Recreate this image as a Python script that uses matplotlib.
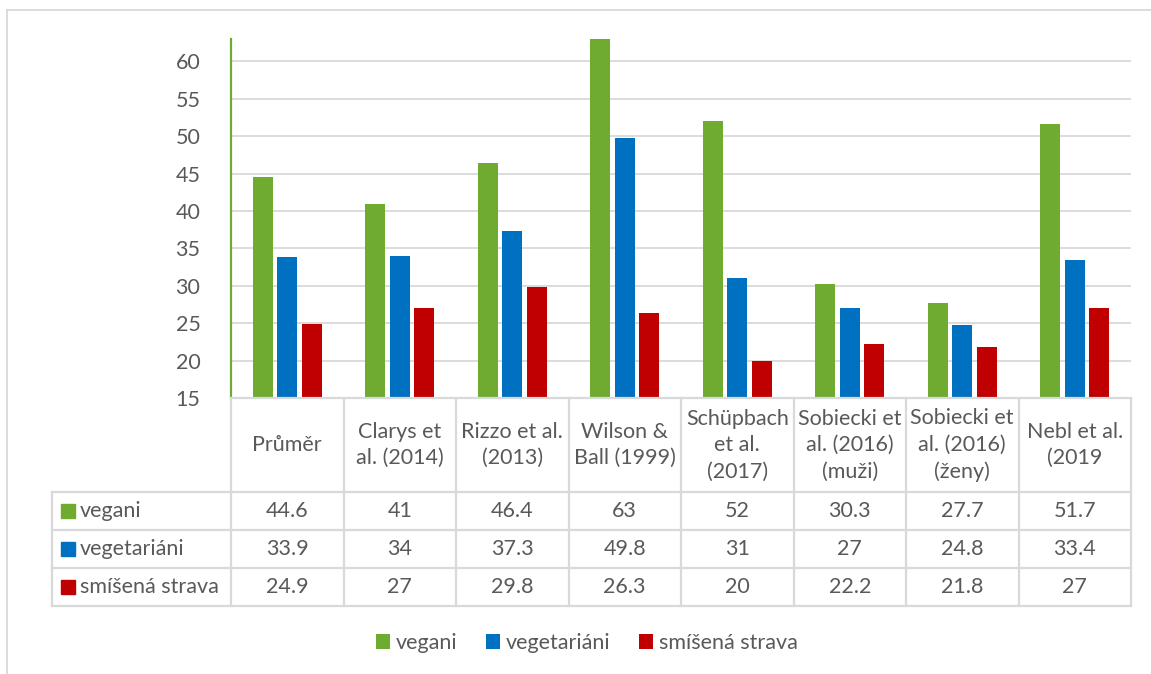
import matplotlib
matplotlib.use("Agg")
import matplotlib.pyplot as plt
from matplotlib.patches import Patch, Rectangle
from matplotlib.lines import Line2D
import numpy as np

plt.rcParams["font.family"] = ["Lato", "DejaVu Sans"]

# Studies (column headers of the data table)
studies = [
    "Průměr",
    "Clarys et\nal. (2014)",
    "Rizzo et al.\n(2013)",
    "Wilson &\nBall (1999)",
    "Schüpbach\net al.\n(2017)",
    "Sobiecki et\nal. (2016)\n(muži)",
    "Sobiecki et\nal. (2016)\n(ženy)",
    "Nebl et al.\n(2019",
]
vegani = [44.6, 41, 46.4, 63, 52, 30.3, 27.7, 51.7]
vegetariani = [33.9, 34, 37.3, 49.8, 31, 27, 24.8, 33.4]
smisena_strava = [24.9, 27, 29.8, 26.3, 20, 22.2, 21.8, 27]
series_names = ["vegani", "vegetariáni", "smíšená strava"]
y_ticks = [15, 20, 25, 30, 35, 40, 45, 50, 55, 60]

series = [vegani, vegetariani, smisena_strava]
colors = ["#6EAB30", "#0070C0", "#C00000"]
text_col = "#595959"
grid_col = "#D9D9D9"
fs = 15.5

W, H = 1151, 674
fig = plt.figure(figsize=(W / 100, H / 100), dpi=100)


def px_box(x0, y0, x1, y1):
    """Axes rectangle given in pixels measured from the top-left corner."""
    return [x0 / W, 1 - y1 / H, (x1 - x0) / W, (y1 - y0) / H]


# outer chart frame (left and top edges visible)
fig.add_artist(Line2D([7 / W, 7 / W], [0, 1 - 10 / H], color=grid_col, lw=1.3))
fig.add_artist(Line2D([7 / W, 1], [1 - 10 / H, 1 - 10 / H], color=grid_col, lw=1.3))

# ---- bar chart ----
ax = fig.add_axes(px_box(231, 39, 1131, 398))
x = np.arange(len(studies))
bw = 0.178
step = 0.218
for i, (vals, c) in enumerate(zip(series, colors)):
    ax.bar(x + (i - 1) * step, vals, width=bw, color=c, zorder=3)

ax.set_xlim(-0.5, len(studies) - 0.5)
ax.set_ylim(15, 63)
ax.set_yticks(y_ticks)
ax.set_yticklabels([str(t) for t in y_ticks], fontsize=fs, color=text_col)
ax.tick_params(axis="y", length=0, pad=22)
ax.set_xticks([])
ax.yaxis.grid(True, color=grid_col, lw=1.3, zorder=0)
for s in ["top", "right", "bottom"]:
    ax.spines[s].set_visible(False)
ax.spines["left"].set_color(colors[0])
ax.spines["left"].set_linewidth(1.6)
ax.spines["left"].set_zorder(4)

# ---- data table ----
col_px = 112.5
tx = fig.add_axes(px_box(52, 398, 1131, 606))
x_left = -0.5 - (231 - 52) / col_px
tx.set_xlim(x_left, len(studies) - 0.5)
tx.set_ylim(208, 0)
tx.axis("off")

header_h = 94
row_h = 38
lw_t = 1.6
# horizontal lines
tx.plot([-0.5, len(studies) - 0.5], [0, 0], color=grid_col, lw=lw_t, clip_on=False)
for k in range(4):
    yy = header_h + k * row_h
    tx.plot([x_left, len(studies) - 0.5], [yy, yy], color=grid_col, lw=lw_t, clip_on=False)
# vertical lines
tx.plot([x_left, x_left], [header_h, 208], color=grid_col, lw=lw_t, clip_on=False)
for k in range(len(studies) + 1):
    xx = -0.5 + k
    tx.plot([xx, xx], [0, 208], color=grid_col, lw=lw_t, clip_on=False)

for j, lab in enumerate(studies):
    tx.text(j, header_h / 2, lab, ha="center", va="center", fontsize=fs,
            color=text_col, linespacing=1.4)

sq_w = 14 / col_px
for r, (name, vals, c) in enumerate(zip(series_names, series, colors)):
    yc = header_h + r * row_h + row_h / 2
    tx.add_patch(Rectangle((x_left + 9 / col_px, yc - 7), sq_w, 14, color=c, clip_on=False))
    tx.text(x_left + 28 / col_px, yc, name, ha="left", va="center", fontsize=fs, color=text_col)
    for j, v in enumerate(vals):
        tx.text(j, yc, f"{v:g}", ha="center", va="center", fontsize=fs, color=text_col)

# ---- legend ----
handles = [Patch(facecolor=c, edgecolor="none") for c in colors]
fig.legend(handles, series_names, loc="center", bbox_to_anchor=(587 / W, 1 - 643 / H),
           ncol=3, frameon=False, fontsize=fs, labelcolor=text_col,
           handlelength=0.65, handleheight=0.65, handletextpad=0.25, columnspacing=1.35)

fig.savefig("out.png", dpi=100)
